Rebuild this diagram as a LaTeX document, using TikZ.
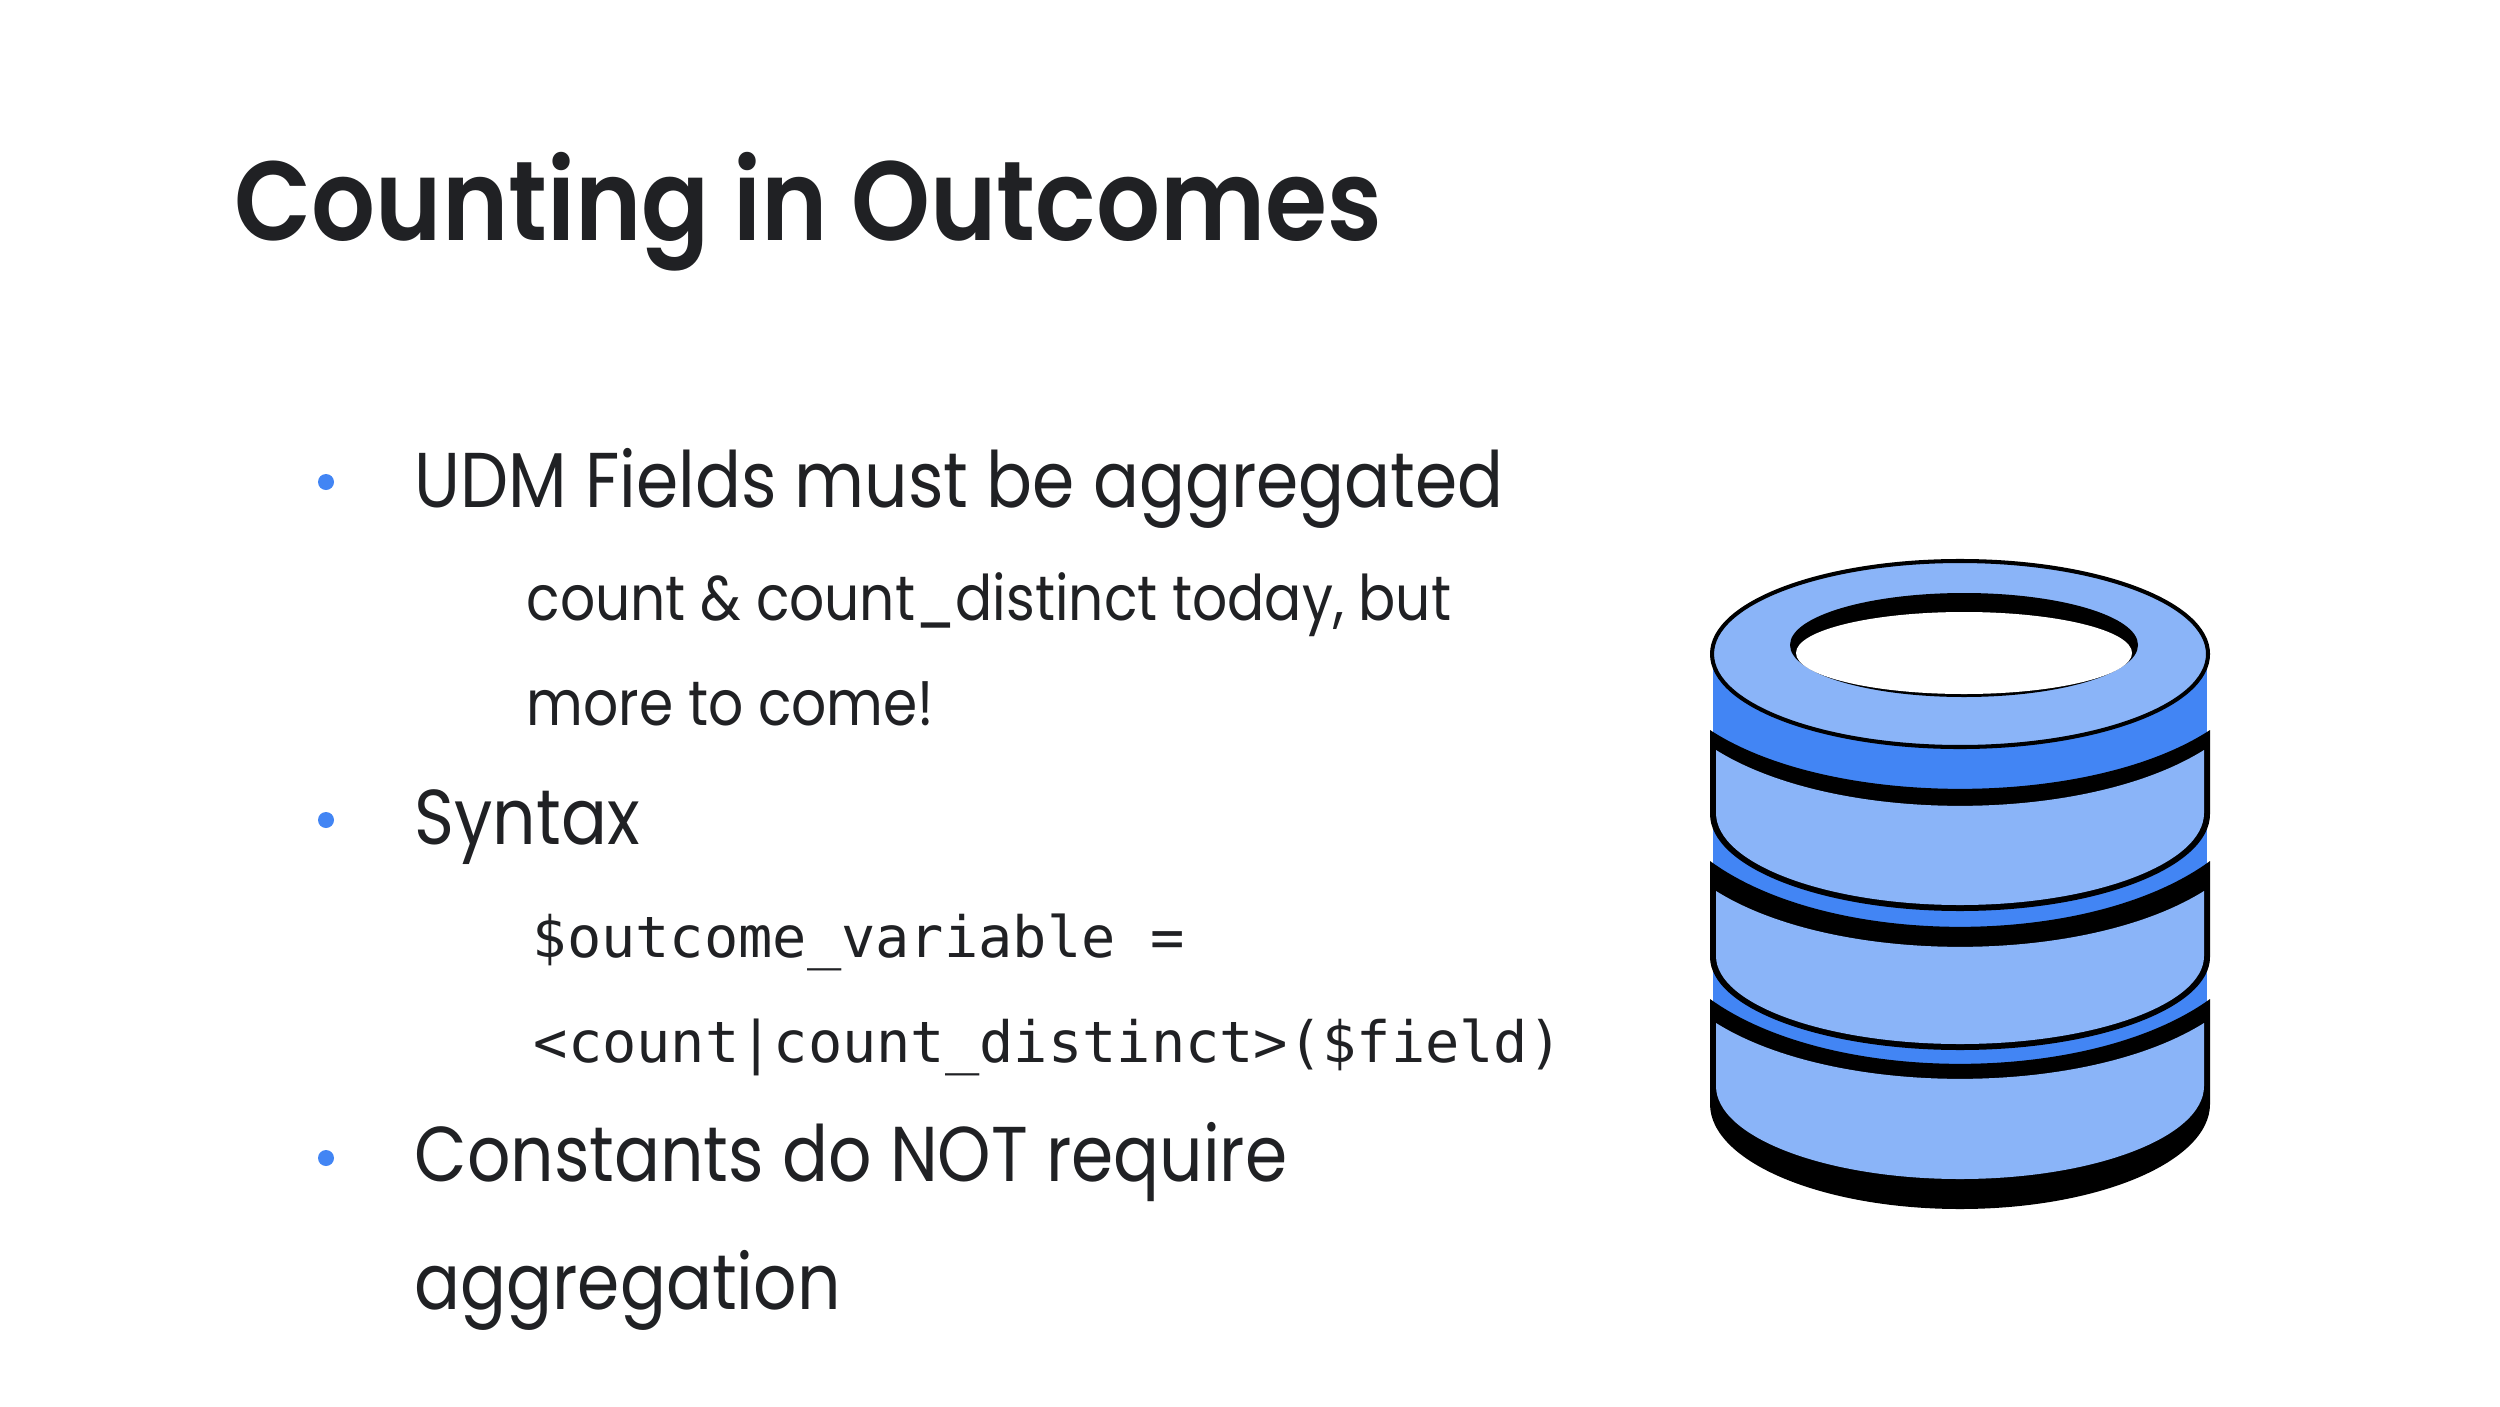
\documentclass[tikz,border=0pt]{standalone}
\usepackage{fontspec}
\setmainfont{Poppins}
\newfontfamily\titlefont[FakeStretch=0.892]{Poppins SemiBold}
\newfontfamily\bodyfont[FakeStretch=0.875]{Poppins}
\setmonofont{DejaVu Sans Mono}
\definecolor{inkgray}{HTML}{202124}
\definecolor{dbdark}{HTML}{4285F4}
\definecolor{dblight}{HTML}{8AB4F8}
\tikzset{
  titletext/.style={anchor=base west, inner sep=0pt, text=inkgray, font=\titlefont\fontsize{32}{32}\selectfont},
  maintext/.style={anchor=base west, inner sep=0pt, text=inkgray, font=\bodyfont\fontsize{22.1}{22.1}\selectfont},
  subtext/.style={anchor=base west, inner sep=0pt, text=inkgray, font=\bodyfont\fontsize{17.9}{17.9}\selectfont},
  codetext/.style={anchor=base west, inner sep=0pt, text=inkgray, font=\ttfamily\fontsize{16.2}{16.2}\selectfont},
  dbline/.style={line width=1.15pt, draw=black, line join=round},
}
\begin{document}
\begin{tikzpicture}[x=0.01cm,y=-0.01cm]
  \useasboundingbox (0,0) rectangle (2500,1406);

  \node[titletext] (title) at (234,240) {Counting in Outcomes};

  \foreach \bullety in {482,820,1158}{
    \fill[dbdark] (326,\bullety) circle [radius=8];
  }

  \node[maintext] (fields) at (414,507) {UDM Fields must be aggregated};
  \node[subtext] (counts) at (526,620) {count \& count\_distinct today, but};
  \node[subtext] (more) at (526,725) {more to come!};
  \node[maintext] (syntax) at (414,844) {Syntax};
  \node[codetext] (outvar) at (532,957) {\$outcome\_variable =};
  \node[codetext] (call) at (533,1062) {<count|count\_distinct>(\$field)};
  \node[maintext] (constants) at (414,1181) {Constants do NOT require};
  \node[maintext] (aggr) at (414,1309) {aggregation};

  % blue core behind the three drums
  \fill[dbdark] (1713,650) rectangle (2207,1070);

  % top of black, top of drum, centre dips, bottom ellipse
  \foreach \ya/\yb/\yc/\yd/\ye/\ry/\yo/\ro in {
    999/1064/1023/1079/1086/93/1104/105,
    861/927/891/947/956/88/957/93,
    730/789/750/806/813/92/814/97}{
    \fill[black] (1710,\ya)
      .. controls (1830,{\yb+(\yb-\ya)*0.33}) and (2090,{\yb+(\yb-\ya)*0.33}) .. (2210,\ya)
      -- (2210,\yo)
      .. controls (2210,{\yo+0.55*\ro}) and (2098,{\yo+\ro}) .. (1960,{\yo+\ro})
      .. controls (1822,{\yo+\ro}) and (1710,{\yo+0.55*\ro}) .. (1710,\yo) -- cycle;
    \fill[dblight] (1716,\yc)
      .. controls (1835,{\yd+(\yd-\yc)*0.33}) and (2085,{\yd+(\yd-\yc)*0.33}) .. (2204,\yc)
      -- (2204,\ye)
      .. controls (2204,{\ye+0.55*\ry}) and (2094,{\ye+\ry}) .. (1960,{\ye+\ry})
      .. controls (1826,{\ye+\ry}) and (1716,{\ye+0.55*\ry}) .. (1716,\ye) -- cycle;
  }

  % lid with its hole
  \draw[dbline, fill=dblight] (1960,654) ellipse [x radius=248, y radius=93];
  \fill[black] (1964,645) ellipse [x radius=174, y radius=52];
  \fill[white] (1964,653) ellipse [x radius=168, y radius=41];
\end{tikzpicture}
\end{document}
